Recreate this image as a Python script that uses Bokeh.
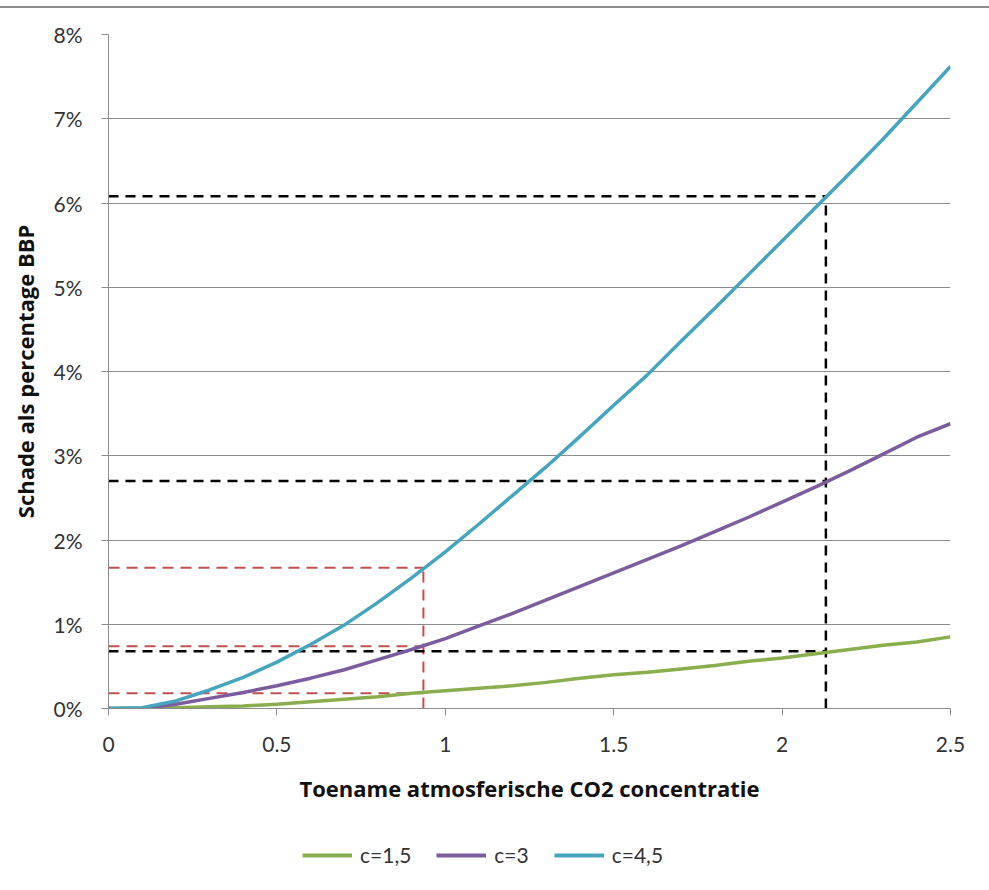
from bokeh.plotting import figure
from bokeh.layouts import column
from bokeh.models import FixedTicker, Legend, LegendItem, ColumnDataSource
from bokeh.embed import file_html
from bokeh.resources import INLINE

# ---- data ----
x_vals = [0.0, 0.1, 0.2, 0.3, 0.4, 0.5, 0.6, 0.7, 0.8, 0.9, 1.0, 1.1, 1.2,
          1.3, 1.4, 1.5, 1.6, 1.7, 1.8, 1.9, 2.0, 2.1, 2.2, 2.3, 2.4, 2.5]
c15 = [0.0, 0.0, 0.01, 0.02, 0.03, 0.05, 0.08, 0.11, 0.14, 0.18, 0.21, 0.24, 0.27,
       0.31, 0.36, 0.40, 0.43, 0.47, 0.51, 0.56, 0.60, 0.65, 0.70, 0.75, 0.79, 0.85]
c3 = [0.0, 0.0, 0.05, 0.12, 0.19, 0.27, 0.36, 0.46, 0.58, 0.70, 0.83, 0.98, 1.13,
      1.29, 1.45, 1.61, 1.77, 1.93, 2.10, 2.27, 2.45, 2.63, 2.82, 3.02, 3.22, 3.38]
c45 = [0.0, 0.01, 0.09, 0.22, 0.37, 0.55, 0.76, 0.99, 1.26, 1.55, 1.86, 2.19, 2.53,
       2.87, 3.23, 3.60, 3.96, 4.36, 4.75, 5.15, 5.55, 5.95, 6.35, 6.76, 7.19, 7.62]
series_cols = ["c15", "c3", "c45"]
series_names = ["c=1,5", "c=3", "c=4,5"]
series_colors = ["#8AAE4E", "#7B5C9E", "#45A5BF"]

# reference (dashed) lines
red_x = 0.935
red_levels = [0.18, 0.74, 1.67]
black_x = 2.13
black_levels = [0.68, 2.70, 6.08]

x_ticks = [0, 0.5, 1, 1.5, 2, 2.5]
x_tick_labels = ["0", "0.5", "1", "1.5", "2", "2.5"]
y_ticks = [0, 1, 2, 3, 4, 5, 6, 7, 8]
y_tick_labels = ["0%", "1%", "2%", "3%", "4%", "5%", "6%", "7%", "8%"]

FONT = "Lato"
TITLE_FONT = "Open Sans"
GRID = "#8C8C8C"

src = ColumnDataSource(dict(x=x_vals, c15=c15, c3=c3, c45=c45))

p = figure(frame_width=842, frame_height=672, x_range=(0, 2.5), y_range=(0, 8),
           output_backend="svg", toolbar_location=None,
           min_border_left=108, min_border_right=39,
           min_border_top=26, min_border_bottom=110)
p.outline_line_color = None
p.background_fill_color = "white"
p.border_fill_color = "white"
p.styles = {"border-top": "2px solid #8a8a8a", "margin-top": "6px"}

# grid
p.xgrid.grid_line_color = None
p.ygrid.grid_line_color = GRID
p.ygrid.grid_line_width = 1

# axes
p.xaxis.ticker = FixedTicker(ticks=x_ticks)
p.xaxis.major_label_overrides = {t: l for t, l in zip(x_ticks, x_tick_labels)}
p.yaxis.ticker = FixedTicker(ticks=y_ticks)
p.yaxis.major_label_overrides = {t: l for t, l in zip(y_ticks, y_tick_labels)}
for ax in (p.xaxis[0], p.yaxis[0]):
    ax.axis_line_color = GRID
    ax.major_tick_line_color = GRID
    ax.minor_tick_line_color = None
    ax.major_tick_in = 0
    ax.major_tick_out = 7
    ax.major_label_text_font = FONT
    ax.major_label_text_font_size = "21px"
    ax.major_label_text_color = "#333333"
    ax.axis_label_text_font = TITLE_FONT
    ax.axis_label_text_font_style = "bold"
    ax.axis_label_text_font_size = "22px"
    ax.axis_label_text_color = "#111111"
p.xaxis.axis_label = "Toename atmosferische CO2 concentratie"
p.yaxis.axis_label = "Schade als percentage BBP"
p.xaxis.major_label_standoff = 21
p.xaxis.axis_label_standoff = 18
p.yaxis.major_label_standoff = 19
p.yaxis.axis_label_standoff = 10

# dashed reference lines
for lvl in red_levels:
    p.line([0, red_x], [lvl, lvl], line_color="#C0504D", line_width=2, line_dash="11 7")
p.line([red_x, red_x], [0, max(red_levels)], line_color="#C0504D", line_width=2, line_dash="11 7")
for lvl in black_levels:
    p.line([0, black_x], [lvl, lvl], line_color="black", line_width=2.5, line_dash="10 7")
p.line([black_x, black_x], [0, max(black_levels)], line_color="black", line_width=2.5, line_dash="10 7")

# series
for col, color in zip(series_cols, series_colors):
    p.line("x", col, source=src, line_color=color, line_width=3.5, line_join="round")

# legend strip (separate small figure below the chart; its lines lie outside its view)
leg = figure(width=989, height=60, x_range=(100, 101), y_range=(100, 101),
             output_backend="svg", toolbar_location=None,
             x_axis_type=None, y_axis_type=None, min_border=0)
leg.outline_line_color = None
leg.xgrid.grid_line_color = None
leg.ygrid.grid_line_color = None
items = []
for col, name, color in zip(series_cols, series_names, series_colors):
    r = leg.line("x", col, source=src, line_color=color, line_width=4)
    items.append(LegendItem(label=name, renderers=[r]))
legend = Legend(items=items, orientation="horizontal", location=(194, 9),
                label_text_font=FONT, label_text_font_size="21px",
                label_text_color="#333333",
                glyph_width=50, glyph_height=20, label_standoff=8, spacing=25,
                border_line_color=None, background_fill_alpha=0, margin=0, padding=0)
leg.add_layout(legend, "center")

layout = column(p, leg, spacing=0)
open("out.html", "w").write(file_html(layout, INLINE))
